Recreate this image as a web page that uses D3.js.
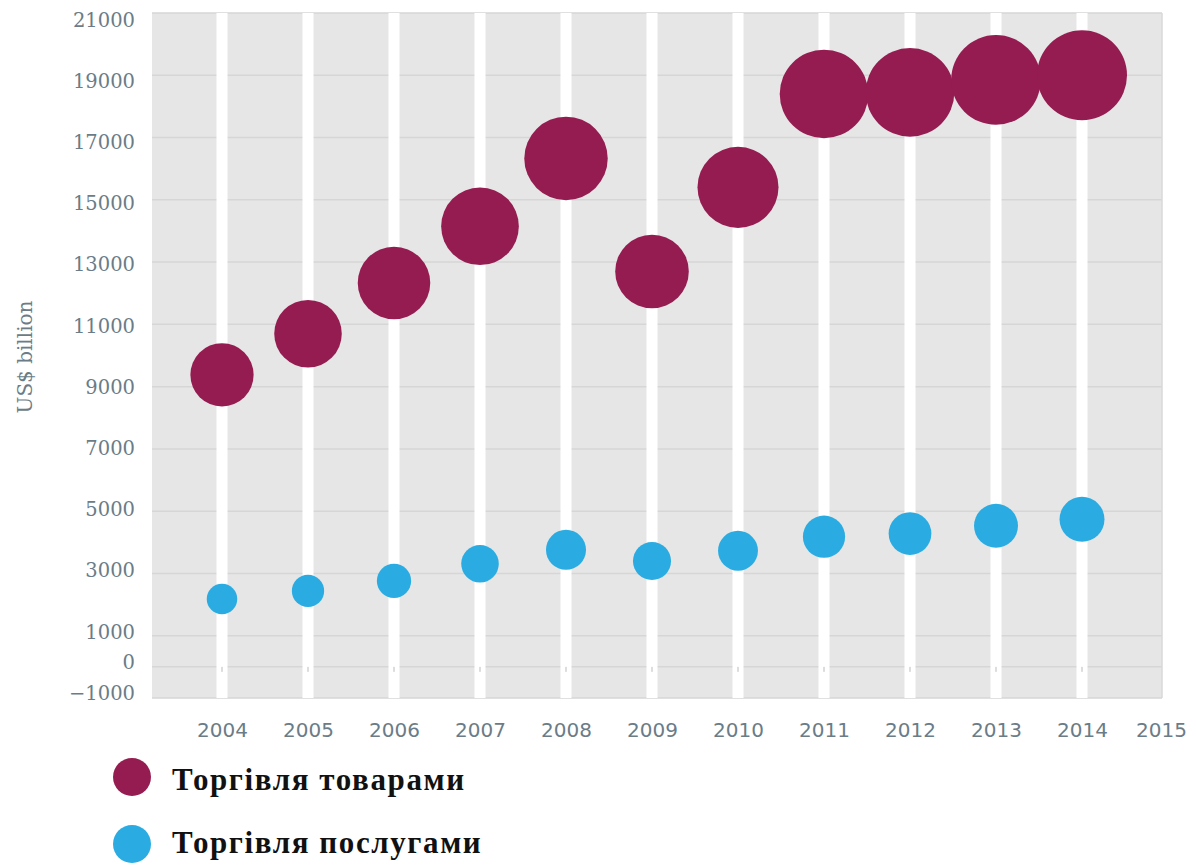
<!DOCTYPE html>
<html>
<head>
<meta charset="utf-8">
<script src="https://cdn.jsdelivr.net/npm/d3@7"></script>
<style>
  body { margin: 0; background: #fff; }
  svg { display: block; }
</style>
</head>
<body>
<div id="chart"></div>
<script>
// data (US$ billion)
const years = [2004, 2005, 2006, 2007, 2008, 2009, 2010, 2011, 2012, 2013, 2014];
const goods = [9380, 10700, 12330, 14150, 16330, 12700, 15400, 18400, 18450, 18850, 19000];
const services = [2180, 2440, 2760, 3310, 3760, 3400, 3730, 4180, 4280, 4530, 4740];
const yearTicks = [2004, 2005, 2006, 2007, 2008, 2009, 2010, 2011, 2012, 2013, 2014, 2015];
const valueTicks = [-1000, 0, 1000, 3000, 5000, 7000, 9000, 11000, 13000, 15000, 17000, 19000, 21000];
const seriesNames = ["Торгівля товарами", "Торгівля послугами"];

const W = 1196, H = 865;
const plot = { left: 152, right: 1162, top: 13, bottom: 698 };
const cGoods = "#951c50", cServ = "#2aace2", cText = "#6b7c87";

const svg = d3.select("#chart").append("svg").attr("width", W).attr("height", H);

const x = d3.scaleLinear().domain([2004, 2014]).range([222, 1082]);
const y = d3.scaleLinear().domain([-1000, 21000]).range([plot.bottom, plot.top]);
// the printed labels sit on a slightly tighter scale than the grid
const yLab = d3.scaleLinear().domain([-1000, 21000]).range([693, 20]);
const r = d3.scaleSqrt().domain([0, 19000]).range([0, 45]);

svg.append("rect")
  .attr("x", plot.left).attr("y", plot.top)
  .attr("width", plot.right - plot.left).attr("height", plot.bottom - plot.top)
  .attr("fill", "#e6e6e6");

svg.append("g").selectAll("line").data(valueTicks).join("line")
  .attr("x1", plot.left).attr("x2", plot.right)
  .attr("y1", d => y(d)).attr("y2", d => y(d))
  .attr("stroke", "#d6d6d6").attr("stroke-width", 1.5);

svg.append("line")
  .attr("x1", plot.right).attr("x2", plot.right)
  .attr("y1", plot.top).attr("y2", plot.bottom)
  .attr("stroke", "#d9d9d9").attr("stroke-width", 1.5);

// white year bands
svg.append("g").selectAll("rect").data(years).join("rect")
  .attr("x", d => x(d) - 5.5).attr("width", 11)
  .attr("y", plot.top).attr("height", plot.bottom - plot.top)
  .attr("fill", "#fff");

// tiny ticks at zero
svg.append("g").selectAll("line").data(years).join("line")
  .attr("x1", d => x(d)).attr("x2", d => x(d))
  .attr("y1", y(0)).attr("y2", y(0) + 5)
  .attr("stroke", "#bbb").attr("stroke-width", 1);

// axes labels
const yAxis = svg.append("g")
  .attr("transform", `translate(135,0)`)
  .call(d3.axisLeft(yLab).tickValues(valueTicks).tickFormat(d3.format("d")).tickSize(0).tickPadding(0));
yAxis.select(".domain").remove();
yAxis.selectAll("text")
  .attr("font-family", "DejaVu Serif, serif").attr("font-size", 19.5).attr("fill", cText);

const xAxis = svg.append("g")
  .attr("transform", `translate(0,${plot.bottom})`)
  .call(d3.axisBottom(x).tickValues(yearTicks).tickFormat(d3.format("d")).tickSize(0).tickPadding(25));
xAxis.select(".domain").remove();
xAxis.selectAll("text")
  .attr("font-family", "DejaVu Sans, sans-serif").attr("font-size", 20).attr("fill", cText);
// last label is squeezed in against the plot edge in the source
xAxis.selectAll("text").filter(d => d === 2015).attr("dx", -7);

svg.append("text")
  .attr("transform", "translate(32,357) rotate(-90)")
  .attr("text-anchor", "middle")
  .attr("font-family", "DejaVu Serif, serif").attr("font-size", 20)
  .attr("fill", cText)
  .text("US$ billion");

// bubbles
svg.append("g").selectAll("circle").data(years).join("circle")
  .attr("cx", d => x(d))
  .attr("cy", (d, i) => y(goods[i]))
  .attr("r", (d, i) => r(goods[i]))
  .attr("fill", cGoods);

svg.append("g").selectAll("circle").data(years).join("circle")
  .attr("cx", d => x(d))
  .attr("cy", (d, i) => y(services[i]))
  .attr("r", (d, i) => r(services[i]))
  .attr("fill", cServ);

// legend
const legend = svg.append("g").selectAll("g").data(seriesNames).join("g")
  .attr("transform", (d, i) => `translate(132,${777 + i * 67})`);
legend.append("circle").attr("r", 19).attr("fill", (d, i) => i ? cServ : cGoods);
legend.append("text")
  .attr("x", 40).attr("y", (d, i) => i ? 9 : 13)
  .attr("font-family", "Liberation Serif, serif").attr("font-weight", "bold")
  .attr("font-size", 31).attr("letter-spacing", 1.6).attr("fill", "#111")
  .text(d => d);
</script>
</body>
</html>
